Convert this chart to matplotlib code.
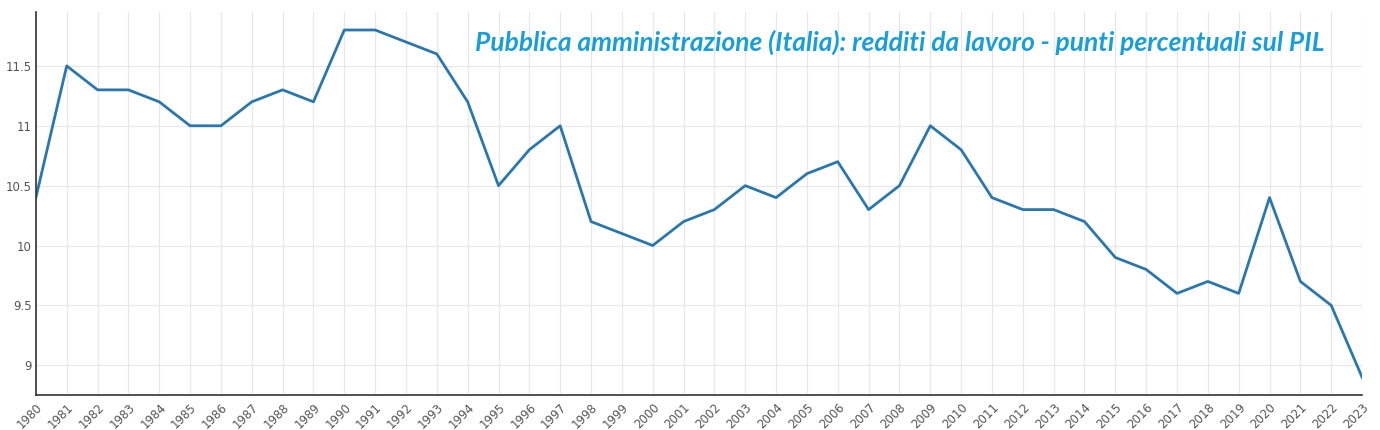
import matplotlib
matplotlib.use("Agg")
import matplotlib.pyplot as plt
from matplotlib.ticker import FuncFormatter

years = list(range(1980, 2024))
values = [10.4, 11.5, 11.3, 11.3, 11.2, 11.0, 11.0, 11.2, 11.3, 11.2,
          11.8, 11.8, 11.7, 11.6, 11.2, 10.5, 10.8, 11.0, 10.2, 10.1,
          10.0, 10.2, 10.3, 10.5, 10.4, 10.6, 10.7, 10.3, 10.5, 11.0,
          10.8, 10.4, 10.3, 10.3, 10.2, 9.9, 9.8, 9.6, 9.7, 9.6,
          10.4, 9.7, 9.5, 8.9]
y_ticks = [9, 9.5, 10, 10.5, 11, 11.5]
title = "Pubblica amministrazione (Italia): redditi da lavoro - punti percentuali sul PIL"

fig = plt.figure(figsize=(13.8, 4.3), dpi=100)
ax = fig.add_axes([0.026, 0.081, 0.961, 0.891])

ax.plot(years, values, color="#2b77ad", linewidth=2)

ax.set_xlim(1980, 2023)
ax.set_ylim(8.75, 11.95)
ax.set_xticks(years)
ax.set_xticklabels([str(y) for y in years], rotation=45, ha="right",
                   rotation_mode="anchor", fontsize=8.5, color="#555555")
ax.set_yticks(y_ticks)
ax.yaxis.set_major_formatter(FuncFormatter(lambda v, p: f"{v:g}"))
ax.tick_params(axis="y", labelsize=8.5, colors="#555555", length=0, pad=3)
ax.tick_params(axis="x", length=0, pad=4)

ax.grid(True, color="#e8e8e8", linewidth=0.9)
ax.set_axisbelow(True)
for side in ["top", "right"]:
    ax.spines[side].set_visible(False)
for side in ["left", "bottom"]:
    ax.spines[side].set_color("#333333")
    ax.spines[side].set_linewidth(1.2)

fig.text(475 / 1380, 1 - 42 / 430, title, ha="left", va="center",
         fontsize=19, fontweight="bold", fontstyle="italic", color="#1a9ed8",
         family="Lato")

fig.savefig("out.png", dpi=100, facecolor="white")
